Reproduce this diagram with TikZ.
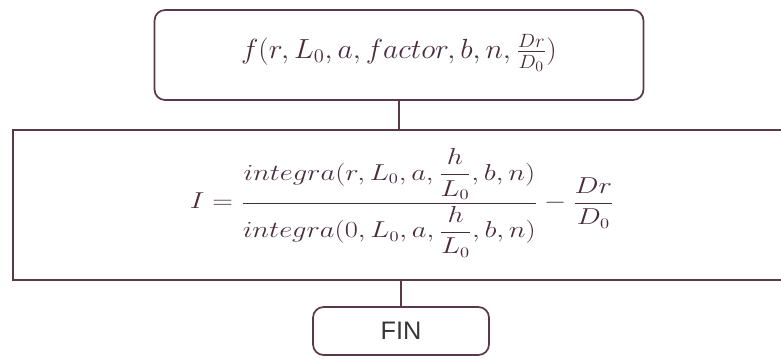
\documentclass[tikz,border=0pt]{standalone}
\usepackage{amsmath}
\usepackage{graphicx}
\usepackage{fontspec}
\usepackage{tikz}
\usepackage{xcolor}
\newfontfamily\finfont{Liberation Sans}

\definecolor{boxline}{HTML}{5A3848}
\definecolor{formula}{HTML}{4A2C3C}

\begin{document}
\begin{tikzpicture}[x=0.75pt, y=-0.75pt,
  every node/.style={inner sep=0pt, outer sep=0pt, text=formula},
  callbox/.style={draw=boxline, line width=1.3pt, rounded corners=8pt},
  procbox/.style={draw=boxline, line width=1.3pt},
  link/.style={draw=boxline, line width=1.1pt}]

  \useasboundingbox (0,0) rectangle (781,358);
  \clip (0,0) rectangle (781,358);

  % function call
  \node[callbox, minimum width=489*0.75pt, minimum height=90*0.75pt] (call) at (399,55) {};
  \node[font=\fontsize{22}{26}\selectfont] (callf) at (399,53)
    {\scalebox{1.07}[1]{$f(r,L_0,a,factor,b,n,\frac{Dr}{D_0})$}};

  % ratio of integrals
  \node[procbox, minimum width=774*0.75pt, minimum height=150*0.75pt] (calc) at (400,205) {};
  \node[font=\fontsize{16}{20}\selectfont] (calcf) at (402,203)
    {\scalebox{1.24}[1]{$I=\dfrac{integra(r,L_0,a,\dfrac{h}{L_0},b,n)}{integra(0,L_0,a,\dfrac{h}{L_0},b,n)}-\dfrac{Dr}{D_0}$}};

  % end
  \node[callbox, minimum width=176*0.75pt, minimum height=48*0.75pt] (fin) at (401,331) {};
  \node[font=\finfont\fontsize{19}{22}\selectfont, text=black!78] (finl) at (fin) {FIN};

  \draw[link] (call.south) -- (call.south |- calc.north);
  \draw[link] (fin.north |- calc.south) -- (fin.north);
\end{tikzpicture}
\end{document}
